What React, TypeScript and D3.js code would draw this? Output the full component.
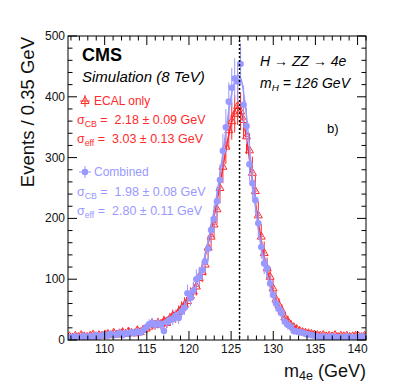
import React from 'react';
import * as d3 from 'd3';

// Page / frame geometry
const W = 407;
const H = 391;
const margin = { left: 68, right: 41, top: 36, bottom: 51 };
const FONT = '"Liberation Sans", Arial, Helvetica, sans-serif';
const RED = '#ff2a2a';
const BLUE = '#9999ff';

// Histogram binning (0.35 GeV bins)
const BIN_START = 105.825;
const BIN_WIDTH = 0.35;
const ERR_SCALE = 1.6; // weighted MC -> errors bigger than sqrt(N)

// ECAL only (red open triangles)
const ecalCounts = [
  6, 4, 7, 5, 8, 6, 5, 7, 9, 6, 8, 7, 9,
  10, 8, 12, 9, 11, 13, 10, 14, 12, 11, 16, 13, 17, 19,
  22, 27, 25, 28, 26, 31, 28, 35, 40, 38, 46, 52, 58,
  64, 73, 80, 88, 102, 112, 124, 152, 170, 190, 215, 250,
  285, 318, 345, 360, 372, 385, 376, 362, 335,
  312, 275, 245, 205, 170, 143, 118, 104, 85, 67,
  57, 48, 37, 31, 25, 21, 18, 15, 13, 12, 11, 10, 9, 8,
  7, 8, 6, 7, 6, 8, 5, 7, 6, 7, 5, 6, 7, 6, 5, 7,
];

// Combined (blue filled circles)
const combinedCounts = [
  5, 4, 6, 3, 5, 7, 4, 6, 5, 8, 6, 7, 9,
  7, 10, 8, 9, 12, 8, 11, 10, 13, 11, 14, 12, 16, 21,
  26, 28, 25, 27, 25, 15, 29, 33, 34, 40, 36, 47, 53,
  77, 69, 81, 100, 104, 115, 129, 150, 181, 199, 228, 263,
  311, 350, 392, 415, 430, 425, 454, 387, 352,
  289, 258, 230, 192, 153, 126, 118, 93, 74, 60,
  51, 44, 30, 25, 22, 15, 14, 13, 12, 10, 9, 8, 7, 6,
  5, 6, 4, 5, 6, 4, 5, 5, 3, 6, 4, 5, 4, 5, 6, 4,
];

// fitted curves
const ecalFitX = [105.65, 108, 110, 112, 114, 115, 116, 117, 118, 119, 120, 120.5, 121, 121.5, 122, 122.5, 123, 123.5, 124, 124.5, 125, 125.4, 125.8, 126.2, 126.6, 127, 127.5, 128, 128.5, 129, 129.5, 130, 130.5, 131, 131.5, 132, 133, 134, 136, 138, 141];
const ecalFitY = [6, 7, 9, 12, 17, 22, 27, 34, 42, 54, 71, 83, 99, 118, 142, 172, 205, 242, 282, 322, 356, 377, 383, 375, 350, 315, 265, 215, 170, 133, 103, 80, 61, 46, 35, 27, 16, 11, 7, 6, 5];
const combFitX = [105.65, 108, 110, 112, 114, 115, 116, 117, 118, 119, 120, 120.5, 121, 121.5, 122, 122.5, 123, 123.5, 124, 124.5, 125, 125.4, 125.8, 126.2, 126.6, 127, 127.5, 128, 128.5, 129, 129.5, 130, 130.5, 131, 131.5, 132, 133, 134, 136, 138, 141];
const combFitY = [5, 6, 8, 11, 16, 20, 25, 31, 38, 48, 68, 80, 97, 118, 145, 178, 215, 255, 305, 355, 400, 425, 436, 428, 395, 345, 268, 208, 158, 122, 95, 72, 54, 38, 27, 20, 13, 9, 6, 5, 4];

const xTicks = [110, 115, 120, 125, 130, 135, 140];
const yTicks = [0, 100, 200, 300, 400, 500];
const M_H = 126;

const x = d3.scaleLinear().domain([105.65, 141.0]).range([margin.left, W - margin.right]);
const y = d3.scaleLinear().domain([0, 500]).range([H - margin.bottom, margin.top]);

const x0 = margin.left, x1 = W - margin.right, y0 = H - margin.bottom, y1 = margin.top;

function Sub({ base, sub, rest }: { base: string; sub: string; rest: string }) {
  return (
    <>
      <tspan>{base}</tspan>
      <tspan fontSize="0.7em" dy="3">{sub}</tspan>
      <tspan dy="-3">{rest}</tspan>
    </>
  );
}

function Triangle({ cx, cy }: { cx: number; cy: number }) {
  return <path d={`M${cx},${cy - 4.5}L${cx + 4},${cy + 2.5}L${cx - 4},${cy + 2.5}Z`} fill="none" stroke={RED} strokeWidth={1} />;
}

export default function App() {
  const centers = ecalCounts.map((_, i) => BIN_START + i * BIN_WIDTH);
  const line = d3.line<[number, number]>().x(d => x(d[0])).y(d => y(d[1])).curve(d3.curveMonotoneX);

  const xMinor = d3.range(106, 141.01, 1).filter(v => v % 5 !== 0);
  const yMinor = d3.range(0, 501, 20).filter(v => v % 100 !== 0);

  const errBars = (counts: number[], color: string) =>
    counts.map((v, i) => {
      const c = centers[i];
      const e = ERR_SCALE * Math.sqrt(v);
      return (
        <g key={i} stroke={color} strokeWidth={1}>
          <line x1={x(c)} x2={x(c)} y1={y(Math.min(v + e, 500))} y2={y(Math.max(v - e, 0))} />
          <line x1={x(c - BIN_WIDTH / 2)} x2={x(c + BIN_WIDTH / 2)} y1={y(v)} y2={y(v)} />
        </g>
      );
    });

  const pre = { whiteSpace: 'pre' } as React.CSSProperties;

  return (
    <svg width={W} height={H} style={{ position: 'absolute', left: 0, top: 0, background: '#fff' }} fontFamily={FONT}>
      <defs>
        <clipPath id="plotArea">
          <rect x={x0} y={y1} width={x1 - x0} height={y0 - y1} />
        </clipPath>
      </defs>

      <g clipPath="url(#plotArea)">
        {/* ECAL only */}
        {errBars(ecalCounts, RED)}
        {ecalCounts.map((v, i) => <Triangle key={i} cx={x(centers[i])} cy={y(v)} />)}
        <path d={line(ecalFitX.map((v, i) => [v, ecalFitY[i]]) as [number, number][]) || ''} fill="none" stroke={RED} strokeWidth={1.5} />

        {/* Combined */}
        {errBars(combinedCounts, BLUE)}
        {combinedCounts.map((v, i) => <circle key={i} cx={x(centers[i])} cy={y(v)} r={3.3} fill={BLUE} />)}
        <path d={line(combFitX.map((v, i) => [v, combFitY[i]]) as [number, number][]) || ''} fill="none" stroke={BLUE} strokeWidth={1.5} />

        {/* m_H marker */}
        <line x1={x(M_H)} x2={x(M_H)} y1={y1} y2={y0} stroke="#000" strokeWidth={1.5} strokeDasharray="2,2" />
      </g>

      {/* frame */}
      <rect x={x0} y={y1} width={x1 - x0} height={y0 - y1} fill="none" stroke="#000" strokeWidth={1} />

      {/* x ticks */}
      {xTicks.map(t => (
        <g key={t} stroke="#000">
          <line x1={x(t)} x2={x(t)} y1={y0} y2={y0 - 9} />
          <line x1={x(t)} x2={x(t)} y1={y1} y2={y1 + 9} />
        </g>
      ))}
      {xMinor.map(t => (
        <g key={t} stroke="#000">
          <line x1={x(t)} x2={x(t)} y1={y0} y2={y0 - 4.5} />
          <line x1={x(t)} x2={x(t)} y1={y1} y2={y1 + 4.5} />
        </g>
      ))}
      {xTicks.map(t => (
        <text key={t} x={x(t)} y={y0 + 13} fontSize={12} textAnchor="middle" fill="#111">{t}</text>
      ))}

      {/* y ticks */}
      {yTicks.map(t => (
        <g key={t} stroke="#000">
          <line x1={x0} x2={x0 + 9} y1={y(t)} y2={y(t)} />
          <line x1={x1} x2={x1 - 9} y1={y(t)} y2={y(t)} />
        </g>
      ))}
      {yMinor.map(t => (
        <g key={t} stroke="#000">
          <line x1={x0} x2={x0 + 4.5} y1={y(t)} y2={y(t)} />
          <line x1={x1} x2={x1 - 4.5} y1={y(t)} y2={y(t)} />
        </g>
      ))}
      {yTicks.map(t => (
        <text key={t} x={x0 - 3} y={y(t) + 4} fontSize={12} textAnchor="end" fill="#111">{t}</text>
      ))}

      {/* axis titles */}
      <text x={366} y={377} fontSize={18} textAnchor="end" fill="#111">
        <Sub base="m" sub="4e" rest=" (GeV)" />
      </text>
      <text transform="translate(34,37) rotate(-90)" fontSize={18.5} textAnchor="end" fill="#111">Events / 0.35 GeV</text>

      {/* CMS labels */}
      <text x={82} y={61} fontSize={18} fontWeight="bold" fill="#000">CMS</text>
      <text x={82} y={82} fontSize={15} fontStyle="italic" fill="#000">Simulation (8 TeV)</text>
      <text x={260} y={66} fontSize={14} fontStyle="italic" fill="#000">H → ZZ → 4e</text>
      <text x={260} y={88} fontSize={14} fontStyle="italic" fill="#000">
        <Sub base="m" sub="H" rest=" = 126 GeV" />
      </text>
      <text x={327} y={133} fontSize={13} fill="#000">b)</text>

      {/* legend: ECAL only */}
      <g stroke={RED} strokeWidth={1}>
        <line x1={80} x2={90} y1={101} y2={101} />
        <line x1={85} x2={85} y1={95} y2={107} />
      </g>
      <Triangle cx={85} cy={101} />
      <text x={94} y={105} fontSize={12} fill={RED}>ECAL only</text>
      <text x={77} y={124} fontSize={12.5} fill={RED} style={pre}>
        <Sub base="σ" sub="CB" rest=" =  2.18 ± 0.09 GeV" />
      </text>
      <text x={77} y={143} fontSize={12.5} fill={RED} style={pre}>
        <Sub base="σ" sub="eff" rest=" =  3.03 ± 0.13 GeV" />
      </text>

      {/* legend: Combined */}
      <g stroke={BLUE} strokeWidth={1}>
        <line x1={79} x2={91} y1={172} y2={172} />
        <line x1={85} x2={85} y1={166} y2={178} />
      </g>
      <circle cx={85} cy={172} r={3.3} fill={BLUE} />
      <text x={94} y={176} fontSize={12} fill={BLUE}>Combined</text>
      <text x={77} y={196} fontSize={12.5} fill={BLUE} style={pre}>
        <Sub base="σ" sub="CB" rest=" =  1.98 ± 0.08 GeV" />
      </text>
      <text x={77} y={215} fontSize={12.5} fill={BLUE} style={pre}>
        <Sub base="σ" sub="eff" rest=" =  2.80 ± 0.11 GeV" />
      </text>
    </svg>
  );
}
